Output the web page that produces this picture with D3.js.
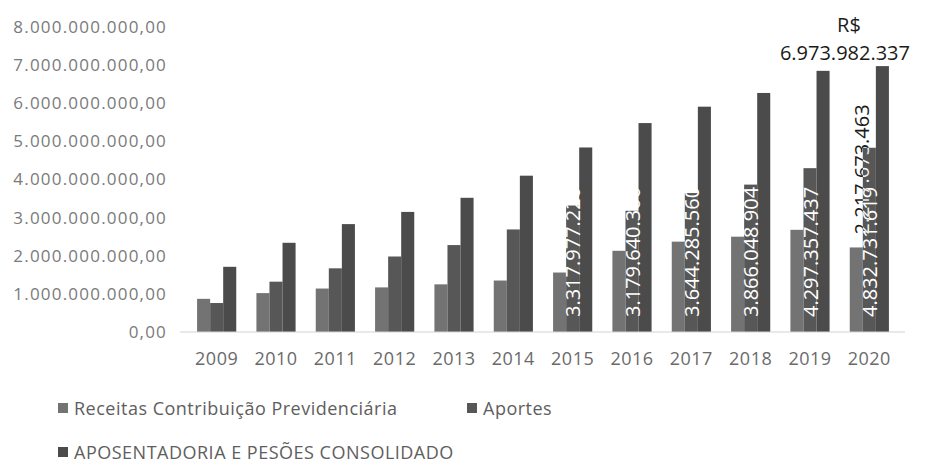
<!DOCTYPE html>
<meta charset="utf-8">
<script src="https://d3js.org/d3.v7.min.js"></script>
<style>
  body { margin: 0; background: #fff; }
  text { font-family: "Open Sans", sans-serif; }
</style>
<body>
<script>
// Data
const years = ["2009", "2010", "2011", "2012", "2013", "2014", "2015", "2016", "2017", "2018", "2019", "2020"];
const receitas = [0.87e9, 1.02e9, 1.14e9, 1.17e9, 1.25e9, 1.35e9, 1.56e9, 2.13e9, 2.37e9, 2.50e9, 2.68e9, 2217673463];
const aportes = [0.76e9, 1.32e9, 1.67e9, 1.98e9, 2.28e9, 2.69e9, 3317977220, 3179640300, 3644285560, 3866048904, 4297357437, 4832731619];
const aposentadoria = [1.71e9, 2.34e9, 2.83e9, 3.15e9, 3.52e9, 4.10e9, 4.84e9, 5.48e9, 5.91e9, 6.27e9, 6.85e9, 6973982337];
const seriesNames = ["Receitas Contribuição Previdenciária", "Aportes", "APOSENTADORIA E PESÕES CONSOLIDADO"];
const yTicks = [0, 1e9, 2e9, 3e9, 4e9, 5e9, 6e9, 7e9, 8e9];
// which Aportes bars carry a value label (2015 onwards)
const labelledYears = ["2015", "2016", "2017", "2018", "2019", "2020"];

const colors = ["#737373", "#575757", "#4b4b4b"];
const series = [receitas, aportes, aposentadoria];

const W = 929, H = 475;
const margin = {top: 27, right: 30, bottom: 143, left: 187};

const svg = d3.select("body").append("svg")
  .attr("width", W)
  .attr("height", H);

const ptBR = d3.formatLocale({decimal: ",", thousands: ".", grouping: [3], currency: ["R$ ", ""]});
const fmtAxis = ptBR.format(",.2f");
const fmtVal = ptBR.format(",.0f");

// Scales
const x0 = d3.scaleBand()
  .domain(years)
  .range([margin.left, 899])
  .paddingInner(0.34)
  .paddingOuter(0.17);

const x1 = d3.scaleBand()
  .domain([0, 1, 2])
  .range([0, x0.bandwidth()]);

const y = d3.scaleLinear()
  .domain([0, 8e9])
  .range([332, margin.top]);

// Y axis labels (no gridlines)
const yAxis = svg.append("g")
  .attr("transform", "translate(167,0)")
  .call(d3.axisLeft(y).tickValues(yTicks).tickFormat(fmtAxis).tickSize(0).tickPadding(0));
yAxis.select(".domain").remove();
yAxis.selectAll("text")
  .style("font-size", "17px")
  .style("letter-spacing", "1.2px")
  .attr("fill", "#7a7a7a");

// Bars
const groups = svg.append("g").selectAll("g")
  .data(years)
  .join("g")
  .attr("transform", d => `translate(${x0(d)},0)`);

groups.selectAll("rect")
  .data((d, i) => series.map((s, k) => ({k: k, v: s[i], year: d})))
  .join("rect")
  .attr("x", d => x1(d.k))
  .attr("width", x1.bandwidth())
  .attr("y", d => y(d.v))
  .attr("height", d => y(0) - y(d.v))
  .attr("fill", d => colors[d.k]);

// X axis line and year labels
svg.append("line")
  .attr("x1", 180).attr("x2", 905)
  .attr("y1", y(0)).attr("y2", y(0))
  .attr("stroke", "#d4d4d4")
  .attr("stroke-width", 1.2);

svg.append("g").selectAll("text")
  .data(years)
  .join("text")
  .attr("x", d => x0(d) + x0.bandwidth() / 2)
  .attr("y", 365)
  .attr("text-anchor", "middle")
  .style("font-size", "18px")
  .style("letter-spacing", "0.5px")
  .attr("fill", "#6a6a6a")
  .text(d => d);

// Aportes labels, inside base, rotated
const labG = svg.append("g");
labelledYears.forEach(yr => {
  const i = years.indexOf(yr);
  const cx = x0(yr) + x1(1) + x1.bandwidth() / 2;
  labG.append("text")
    .attr("transform", `translate(${cx},${y(0) - 15}) rotate(-90)`)
    .attr("dominant-baseline", "central")
    .style("font-size", "20px")
    .attr("fill", "#ffffff")
    .text(fmtVal(aportes[i]));
});

// 2020 Receitas label, outside end, rotated (white where it crosses the Aportes bar)
const last = years.length - 1;
const lastYear = years[last];
const cxR = x0(lastYear) + x1(0) + x1.bandwidth() / 2 + 5;
const recText = fmtVal(receitas[last]);
svg.append("clipPath").attr("id", "clipMed")
  .append("rect")
  .attr("x", x0(lastYear) + x1(1))
  .attr("width", x1.bandwidth())
  .attr("y", y(aportes[last]))
  .attr("height", y(0) - y(aportes[last]));
svg.append("text")
  .attr("transform", `translate(${cxR},${y(receitas[last]) - 13}) rotate(-90)`)
  .attr("dominant-baseline", "central")
  .style("font-size", "20px")
  .attr("fill", "#1a1a1a")
  .text(recText);
svg.append("g").attr("clip-path", "url(#clipMed)")
  .append("text")
  .attr("transform", `translate(${cxR},${y(receitas[last]) - 13}) rotate(-90)`)
  .attr("dominant-baseline", "central")
  .style("font-size", "20px")
  .attr("fill", "#f4f4f4")
  .text(recText);

// 2020 Aposentadoria label, horizontal, two lines, kept inside the frame
const cxA = x0(lastYear) + x1(2) + x1.bandwidth() / 2;
const topLab = svg.append("g");
const numT = topLab.append("text")
  .attr("y", y(aposentadoria[last]) - 6)
  .attr("text-anchor", "middle")
  .style("font-size", "20px")
  .attr("fill", "#1a1a1a")
  .text(fmtVal(aposentadoria[last]));
const half = numT.node().getComputedTextLength() / 2;
const cxLab = Math.min(cxA, W - 19 - half);
numT.attr("x", cxLab);
topLab.append("text")
  .attr("x", cxLab + 4)
  .attr("y", y(aposentadoria[last]) - 34)
  .attr("text-anchor", "middle")
  .style("font-size", "20px")
  .attr("fill", "#1a1a1a")
  .text("R$");

// Legend
const legendPos = [{x: 58, y: 408}, {x: 467, y: 408}, {x: 58, y: 452}];
const legend = svg.append("g").selectAll("g")
  .data(seriesNames)
  .join("g")
  .attr("transform", (d, i) => `translate(${legendPos[i].x},${legendPos[i].y})`);
legend.append("rect")
  .attr("x", 0).attr("y", -5)
  .attr("width", 10).attr("height", 10)
  .attr("fill", (d, i) => colors[i]);
legend.append("text")
  .attr("x", 16)
  .attr("dominant-baseline", "central")
  .style("font-size", "18px")
  .style("letter-spacing", "0.5px")
  .attr("fill", "#5e5e5e")
  .text(d => d);
</script>
</body>
</html>
